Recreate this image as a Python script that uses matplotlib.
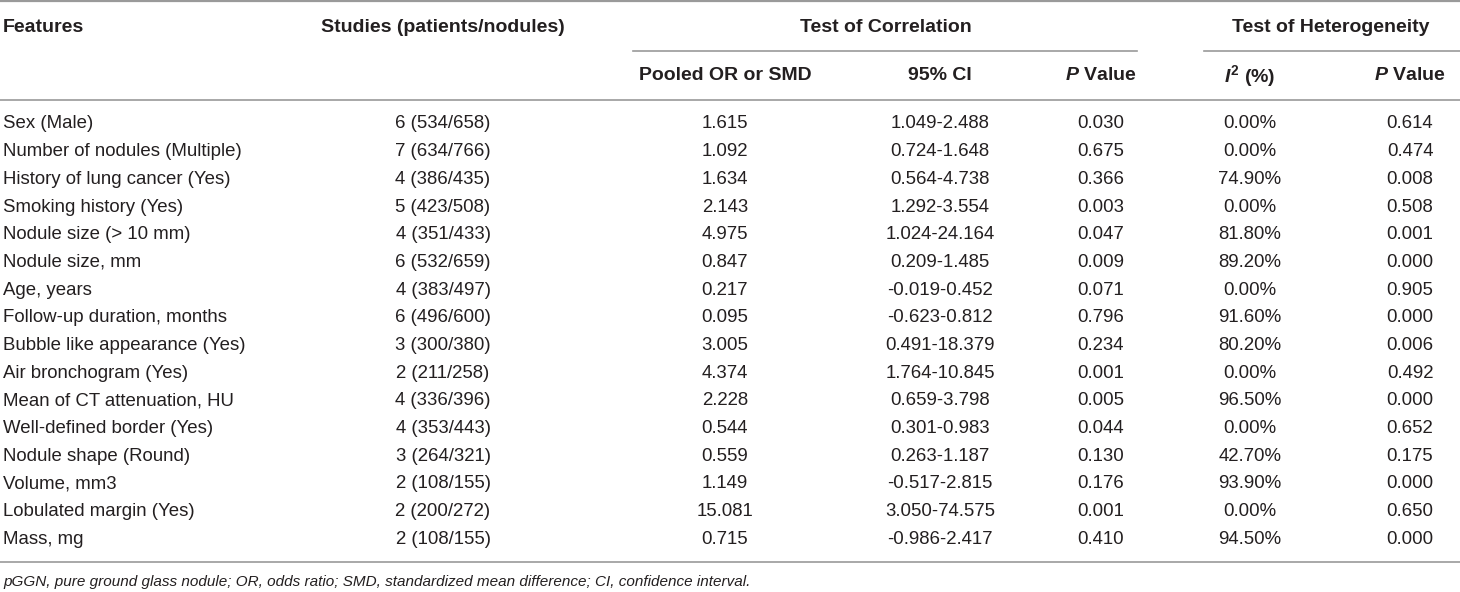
import matplotlib
matplotlib.use("Agg")
import matplotlib.pyplot as plt

features = ["Sex (Male)", "Number of nodules (Multiple)", "History of lung cancer (Yes)",
            "Smoking history (Yes)", "Nodule size (> 10 mm)", "Nodule size, mm",
            "Age, years", "Follow-up duration, months", "Bubble like appearance (Yes)",
            "Air bronchogram (Yes)", "Mean of CT attenuation, HU", "Well-defined border (Yes)",
            "Nodule shape (Round)", "Volume, mm3", "Lobulated margin (Yes)", "Mass, mg"]
studies = ["6 (534/658)", "7 (634/766)", "4 (386/435)", "5 (423/508)", "4 (351/433)",
           "6 (532/659)", "4 (383/497)", "6 (496/600)", "3 (300/380)", "2 (211/258)",
           "4 (336/396)", "4 (353/443)", "3 (264/321)", "2 (108/155)", "2 (200/272)",
           "2 (108/155)"]
pooled = ["1.615", "1.092", "1.634", "2.143", "4.975", "0.847", "0.217", "0.095",
          "3.005", "4.374", "2.228", "0.544", "0.559", "1.149", "15.081", "0.715"]
ci95 = ["1.049-2.488", "0.724-1.648", "0.564-4.738", "1.292-3.554", "1.024-24.164",
        "0.209-1.485", "-0.019-0.452", "-0.623-0.812", "0.491-18.379", "1.764-10.845",
        "0.659-3.798", "0.301-0.983", "0.263-1.187", "-0.517-2.815", "3.050-74.575",
        "-0.986-2.417"]
p_corr = ["0.030", "0.675", "0.366", "0.003", "0.047", "0.009", "0.071", "0.796",
          "0.234", "0.001", "0.005", "0.044", "0.130", "0.176", "0.001", "0.410"]
i2 = ["0.00%", "0.00%", "74.90%", "0.00%", "81.80%", "89.20%", "0.00%", "91.60%",
      "80.20%", "0.00%", "96.50%", "0.00%", "42.70%", "93.90%", "0.00%", "94.50%"]
p_het = ["0.614", "0.474", "0.008", "0.508", "0.001", "0.000", "0.905", "0.000",
         "0.006", "0.492", "0.000", "0.652", "0.175", "0.000", "0.650", "0.000"]
footnote = ("pGGN, pure ground glass nodule; OR, odds ratio; SMD, standardized mean "
            "difference; CI, confidence interval.")

FONT = ["Liberation Sans", "DejaVu Sans"]
plt.rcParams["font.family"] = FONT
plt.rcParams["mathtext.fontset"] = "custom"
plt.rcParams["mathtext.it"] = "Liberation Sans:italic:bold"
plt.rcParams["mathtext.rm"] = "Liberation Sans:bold"
plt.rcParams["mathtext.bf"] = "Liberation Sans:bold"

W, H = 1460, 592
fig = plt.figure(figsize=(W / 100, H / 100), dpi=100)
ax = fig.add_axes([0, 0, 1, 1])
ax.set_xlim(0, W)
ax.set_ylim(H, 0)
ax.axis("off")

FS = 13.4      # body
FSH = 14.0     # header (bold)
TXT = "#231f20"
LINE = "#9a9a9a"

# header
ax.text(3, 27, "Features", fontsize=FSH, weight="bold", color=TXT, va="center")
ax.text(443, 27, "Studies (patients/nodules)", fontsize=FSH, weight="bold", color=TXT,
        va="center", ha="center")
ax.text(886, 27, "Test of Correlation", fontsize=FSH, weight="bold", color=TXT,
        va="center", ha="center")
ax.text(1331, 27, "Test of Heterogeneity", fontsize=FSH, weight="bold", color=TXT,
        va="center", ha="center")

cols = [443, 725, 940, 1101, 1250, 1410]
sub = [None, "Pooled OR or SMD", "95% CI", "$P$ Value", "$I^2$ (%)", "$P$ Value"]
for x, s in zip(cols, sub):
    if s:
        ax.text(x, 76, s, fontsize=FSH, weight="bold", color=TXT, va="center", ha="center")

# rules
ax.plot([0, W], [1.2, 1.2], color=LINE, lw=1.6)
ax.plot([633, 1137], [51, 51], color=LINE, lw=1.2)
ax.plot([1204, W], [51, 51], color=LINE, lw=1.2)
ax.plot([0, W], [100, 100], color=LINE, lw=1.2)
ax.plot([0, W], [562, 562], color=LINE, lw=1.2)

# body
y0, dy = 124, 27.67
for i, f in enumerate(features):
    y = y0 + i * dy
    ax.text(3, y, f, fontsize=FS, color=TXT, va="center")
    for x, col in zip(cols, [studies, pooled, ci95, p_corr, i2, p_het]):
        ax.text(x, y, col[i], fontsize=FS, color=TXT, va="center", ha="center")

ax.text(3, 582, footnote, fontsize=11.0, style="italic", color=TXT, va="center")

fig.savefig("out.png", dpi=100)
